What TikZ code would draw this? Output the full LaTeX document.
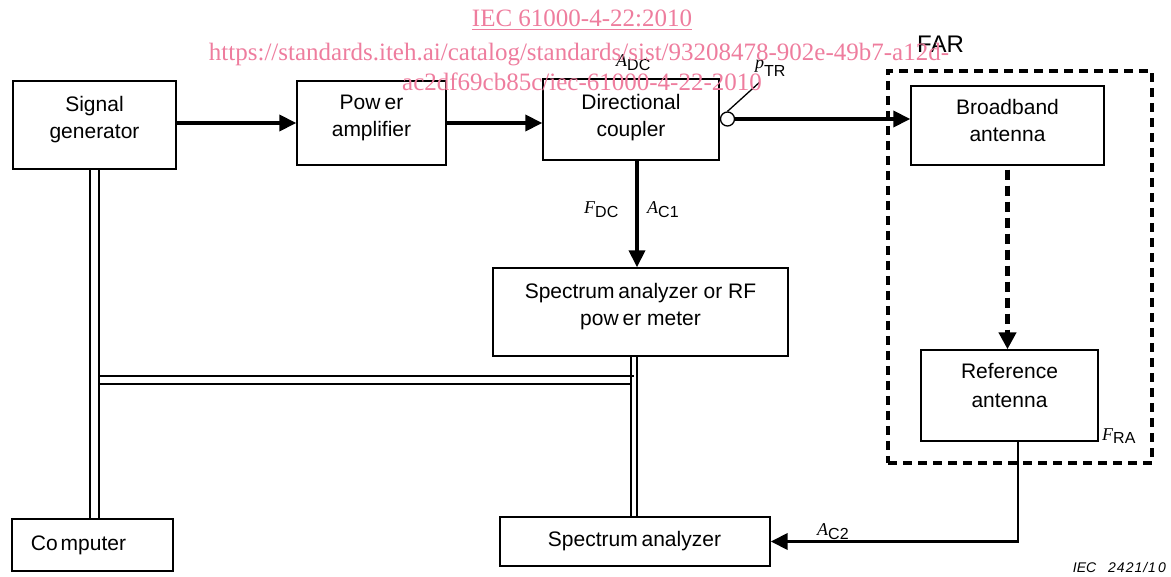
\documentclass[tikz,border=0pt]{standalone}
\usepackage{fontspec}
\setmainfont{Liberation Sans}
\newfontfamily\tms{Liberation Serif}
\usetikzlibrary{arrows.meta,calc}
\definecolor{wm}{RGB}{238,125,158}
\newcommand{\vlab}[3]{{\tms\itshape\fontsize{18}{18}\selectfont #1}\raisebox{-#3}{\fontsize{16}{16}\selectfont #2}}
\begin{document}
\begin{tikzpicture}[x=1pt,y=-1pt,
  box/.style={draw,line width=1.4pt,inner sep=0pt},
  txt/.style={align=center,font=\fontsize{21}{27}\selectfont,inner sep=0pt,anchor=north},
  arr/.style={line width=3.8pt,-{Triangle[length=17pt,width=16pt]}},
  dasharr/.style={line width=4.5pt,dash pattern=on 10pt off 6pt,-{Triangle[length=17pt,width=17pt]}},
  wire/.style={line width=1.3pt},
  far/.style={draw,line width=4pt,dash pattern=on 9pt off 6pt,inner sep=0pt},
  lab/.style={inner sep=0pt,anchor=base west},
  wmk/.style={inner sep=0pt,anchor=base,text=wm,font=\tms\fontsize{25}{25}\selectfont}]
\useasboundingbox (0,0) rectangle (1171,577);

% boxes
\node[box,minimum width=163pt,minimum height=88pt] (sg) at (94.5,125) {};
\node[txt] (sgt) at (94.5,96.5) {Signal\\generator};
\node[box,minimum width=149pt,minimum height=84pt] (pa) at (371.5,123) {};
\node[txt] (pat) at (371.5,94.5) {Pow\kern4pt er\\amplifier};
\node[box,minimum width=176pt,minimum height=81pt] (dc) at (631,119.5) {};
\node[txt] (dct) at (631,94.5) {Directional\\coupler};
\node[box,minimum width=295pt,minimum height=88pt] (rf) at (640.5,312) {};
\node[txt] (rft) at (640.5,283.5) {Spectrum\kern-2pt\ analyzer or RF\\pow\kern4pt er meter};
\node[box,minimum width=270pt,minimum height=49pt] (sa) at (635,541.5) {};
\node[txt] (sat) at (634.5,531.5) {Spectrum\kern-2pt\ analyzer};
\node[box,minimum width=161pt,minimum height=52pt] (comp) at (92.5,545) {};
\node[txt] (compt) at (78.5,535.5) {Co\kern3pt mputer};
\node[far,minimum width=264pt,minimum height=392pt] (farbox) at (1020,267) {};
\node[box,minimum width=193pt,minimum height=79pt] (bb) at (1007.5,125.5) {};
\node[txt] (bbt) at (1007.5,99.5) {Broadband\\antenna};
\node[box,minimum width=177pt,minimum height=91pt] (ra) at (1009.5,395.5) {};
\node[txt,font=\fontsize{21}{29}\selectfont] (rat) at (1009.5,363) {Reference\\antenna};
\node[draw,circle,line width=1.3pt,minimum size=14pt,inner sep=0pt] (port) at (727.5,119) {};

% connectors
\draw[arr] (sg.east |- pa.west) -- (pa.west);
\draw[arr] (pa.east) -- (pa.east -| dc.west);
\draw[arr] (port.east) -- (port.east -| bb.west);
\draw[arr] ([xshift=6pt]dc.south) -- ([xshift=6pt]dc.south |- rf.north);
\draw[dasharr,shorten <=4pt] (bb.south) -- (bb.south |- ra.north);
\draw[wire] ([xshift=8.5pt]ra.south) -- ([xshift=8.5pt]ra.south |- sa.east) coordinate (rac);
\draw[arr] ([xshift=0.65pt]rac) -- (sa.east);
\draw[wire] (port.north) -- ++(32,-29);

% double lines
\draw[wire] ([xshift=-4.5pt]sg.south) -- ([xshift=-4.5pt]sg.south |- comp.north);
\draw[wire] ([xshift=4.5pt]sg.south) -- ([xshift=4.5pt]sg.south |- comp.north);
\draw[wire] ([xshift=-9.5pt]rf.south) -- ([xshift=-9.5pt]rf.south |- sa.north);
\draw[wire] ([xshift=-3.5pt]rf.south) -- ([xshift=-3.5pt]rf.south |- sa.north);
\draw[wire] ([xshift=4.5pt]sg.south |- 0,376) -- ([xshift=-7pt]rf.south |- 0,376);
\draw[wire] ([xshift=4.5pt]sg.south |- 0,384) -- ([xshift=-9.5pt]rf.south |- 0,384);

% labels
\node[lab] (adc) at (616,67) {\vlab{A}{DC}{4pt}};
\node[lab] (ptr) at (755,69) {\vlab{p}{TR}{8pt}};
\node[lab] (fdc) at (584,214) {\vlab{F}{DC}{4pt}};
\node[lab] (ac1) at (647,214) {\vlab{A}{C1}{4pt}};
\node[lab] (fra) at (1102,440) {\vlab{F}{RA}{4pt}};
\node[lab] (ac2) at (817,535) {\vlab{A}{C2}{4pt}};
\node[lab,font=\fontsize{24}{24}\selectfont] (fart) at (917,53) {FAR};
\node[inner sep=0pt,anchor=base east,font=\itshape\fontsize{14}{14}\selectfont] (iec) at (1166,572) {IEC\hspace{12pt}2\kern1pt4\kern1pt2\kern1pt1\kern1pt/\kern1pt1\kern2pt0};

% watermark
\node[wmk] (wm1) at (582,27) {\underline{IEC 61000-4-22:2010}};
\node[wmk] (wm2) at (579,61) {https://standards.iteh.ai/catalog/standards/sist/93208478-902e-49b7-a12d-};
\node[wmk] (wm3) at (582,91) {ac2df69cb85c/iec-61000-4-22-2010};
\end{tikzpicture}
\end{document}
